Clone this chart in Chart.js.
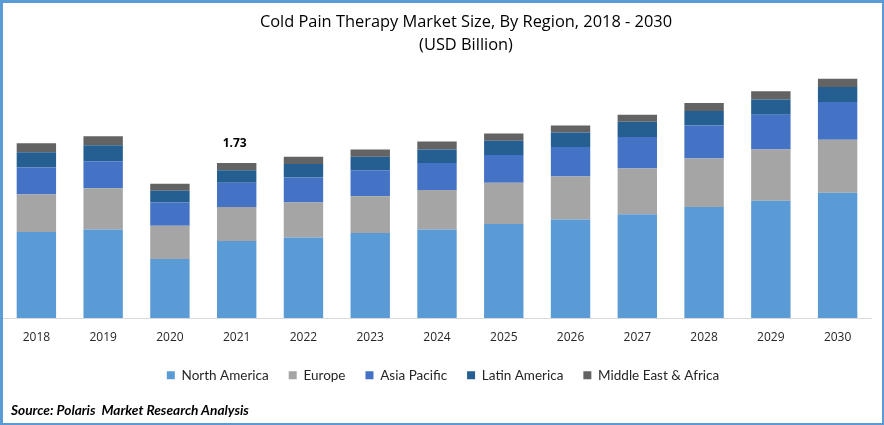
<!DOCTYPE html>
<html lang="en">
<head>
<meta charset="UTF-8">
<title>Cold Pain Therapy Market Size</title>
<script src="https://cdn.jsdelivr.net/npm/chart.js"></script>
<style>
  html, body { margin: 0; padding: 0; background: #fff; }
  #wrap { position: relative; width: 884px; height: 425px; overflow: hidden; }
  #frame { position: absolute; left: 0; top: 0; right: 0; bottom: 0; border: 3px solid #5B9BD5; border-right-width: 2px; border-bottom-width: 2px; pointer-events: none; }
  #title { position: absolute; left: 200px; width: 532px; top: 9px; text-align: center; font: 16.4px/23px "Open Sans", sans-serif; color: #000; }
  #source { position: absolute; left: 11px; top: 401px; font: italic bold 13.7px "Lato", sans-serif; color: #000; }
  canvas { position: absolute; left: 0; top: 0; }
</style>
</head>
<body>
<div id="wrap">
  <canvas id="marketChart" width="884" height="425"></canvas>
  <div id="title">Cold Pain Therapy Market Size, By Region, 2018 - 2030<br>(USD Billion)</div>
  <div id="source">Source: Polaris&nbsp; Market Research Analysis</div>
  <div id="frame"></div>
</div>
<script>
  const years = ['2018','2019','2020','2021','2022','2023','2024','2025','2026','2027','2028','2029','2030'];
  const northAmerica = [0.96,0.99,0.66,0.86,0.90,0.95,0.99,1.05,1.10,1.16,1.24,1.31,1.40];
  const europe       = [0.42,0.46,0.37,0.38,0.39,0.41,0.44,0.46,0.48,0.51,0.54,0.57,0.59];
  const asiaPacific  = [0.30,0.30,0.26,0.27,0.28,0.29,0.30,0.31,0.33,0.35,0.37,0.39,0.42];
  const latinAmerica = [0.17,0.18,0.13,0.14,0.15,0.15,0.15,0.16,0.16,0.17,0.16,0.17,0.17];
  const middleEast   = [0.10,0.10,0.08,0.08,0.08,0.08,0.09,0.08,0.08,0.08,0.09,0.09,0.09];
  const labelledYear = '2021';
  const labelledText = '1.73';

  function bar(label, data, color) {
    return { label, data, backgroundColor: color, categoryPercentage: 1, barPercentage: 0.59 };
  }

  // the one total that the picture prints, above the 2021 column
  const totalLabel = {
    id: 'totalLabel',
    afterDatasetsDraw(chart) {
      const i = years.indexOf(labelledYear);
      let total = 0;
      chart.data.datasets.forEach(d => { total += d.data[i]; });
      const ctx = chart.ctx;
      ctx.save();
      ctx.font = 'bold 12px "Open Sans", sans-serif';
      ctx.fillStyle = '#000';
      ctx.textAlign = 'center';
      ctx.textBaseline = 'middle';
      ctx.fillText(labelledText, chart.scales.x.getPixelForValue(i) - 2, chart.scales.y.getPixelForValue(total) - 19);
      ctx.restore();
    }
  };

  Chart.defaults.devicePixelRatio = 1;
  new Chart(document.getElementById('marketChart'), {
    type: 'bar',
    data: {
      labels: years,
      datasets: [
        bar('North America', northAmerica, '#5B9BD5'),
        bar('Europe', europe, '#A5A5A5'),
        bar('Asia Pacific', asiaPacific, '#4472C4'),
        bar('Latin America', latinAmerica, '#255E91'),
        bar('Middle East & Africa', middleEast, '#636363')
      ]
    },
    options: {
      responsive: false,
      animation: false,
      layout: { padding: { left: 3, right: 1, top: 60, bottom: 33 } },
      plugins: {
        tooltip: { enabled: false },
        legend: {
          position: 'bottom',
          labels: {
            boxWidth: 8, boxHeight: 8, padding: 20, color: '#262626',
            font: { family: '"Lato", sans-serif', size: 13.5 }
          }
        }
      },
      scales: {
        x: {
          stacked: true,
          grid: { display: false },
          border: { display: true, color: '#D9D9D9', width: 1 },
          ticks: { color: '#262626', font: { family: '"Open Sans", sans-serif', size: 12 }, padding: 4, maxRotation: 0 }
        },
        // empty strip on the right, so the legend stays centred on the page and the bars do not
        y: {
          stacked: true, position: 'right', min: 0, max: 2.88,
          grid: { display: false },
          border: { display: false },
          ticks: { display: false },
          afterFit(scale) { scale.width = 12; }
        }
      }
    },
    plugins: [totalLabel]
  });
</script>
</body>
</html>
